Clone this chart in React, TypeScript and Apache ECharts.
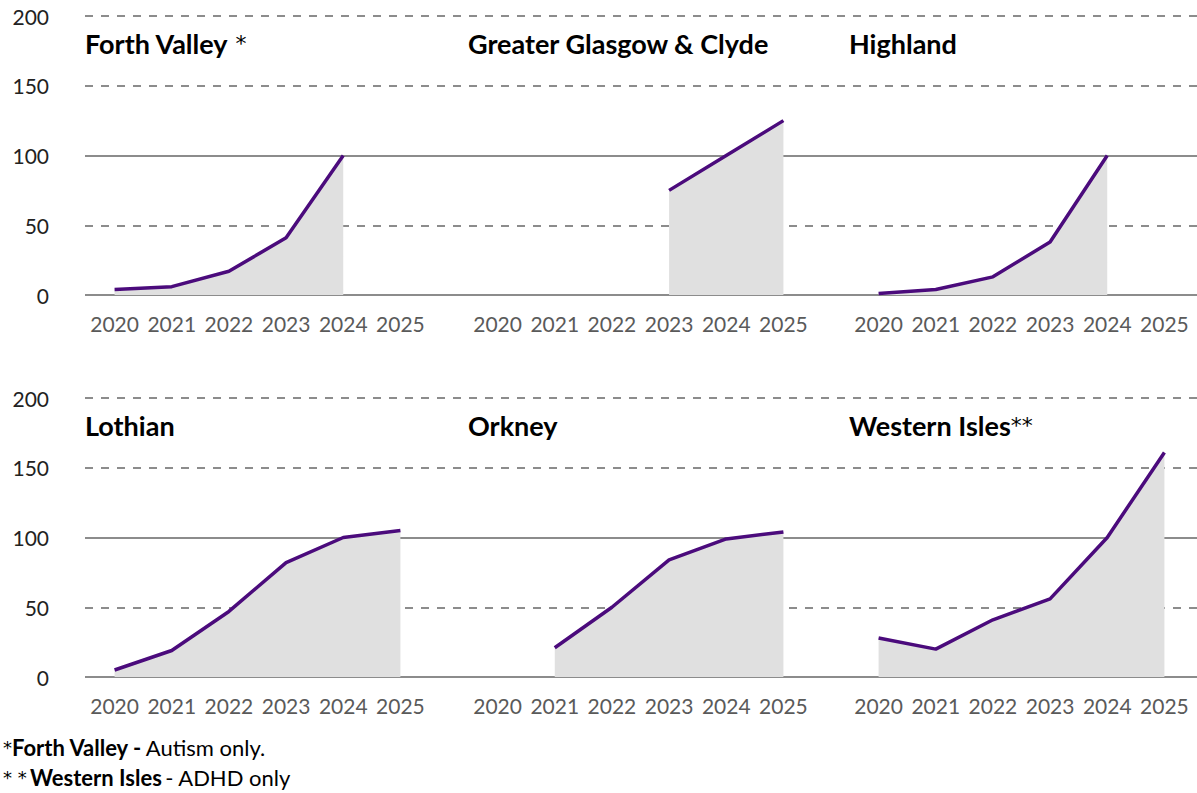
import React, { useEffect, useRef } from "react";
import * as echarts from "echarts";

const years = ["2020", "2021", "2022", "2023", "2024", "2025"];
const forthValley = [4, 6, 17, 41, 100, null];
const greaterGlasgow = [null, null, null, 75, 100, 125];
const highland = [1, 4, 13, 38, 100, null];
const lothian = [5, 19, 47, 82, 100, 105];
const orkney = [null, 21, 50, 84, 99, 104];
const westernIsles = [28, 20, 41, 56, 100, 161];

const panelNames = [
  "{t|Forth Valley}{s| *}",
  "{t|Greater Glasgow & Clyde}",
  "{t|Highland}",
  "{t|Lothian}",
  "{t|Orkney}",
  "{t|Western Isles}{s|**}",
];
const panelData = [forthValley, greaterGlasgow, highland, lothian, orkney, westernIsles];

const FONT = "Lato, 'Noto Sans', sans-serif";
const STAR_FONT = "'DejaVu Sans', sans-serif";
const LINE_COLOR = "#4b0b7c";
const AREA_COLOR = "#e0e0e0";
const GRID_COLOR = "#8c8c8c";

export default function App() {
  const ref = useRef<HTMLDivElement>(null);
  useEffect(() => {
    if (!ref.current) return;
    const chart = echarts.init(ref.current, null, { renderer: "svg" });

    const rowTops = [16, 398];
    const rowHeight = 279;
    const panelLefts = [86, 469, 850];
    const panelWidth = 343;

    const grid: any[] = [];
    const xAxis: any[] = [];
    const yAxis: any[] = [];
    const series: any[] = [];
    const graphic: any[] = [];

    rowTops.forEach((top) => {
      const gi = grid.length;
      grid.push({ left: 85, right: 0, top, height: rowHeight });
      xAxis.push({ type: "value", gridIndex: gi, show: false, min: 0, max: 1 });
      yAxis.push({
        type: "value",
        gridIndex: gi,
        min: 0,
        max: 200,
        interval: 50,
        axisLine: { show: false },
        axisTick: { show: false },
        axisLabel: { color: "#222", fontSize: 21, fontFamily: FONT, margin: 36 },
        splitLine: { show: true, lineStyle: { color: GRID_COLOR, width: 2, type: [8, 8] } },
      });
    });
    rowTops.forEach((top) => {
      const gi = grid.length;
      grid.push({ left: 85, right: 0, top: top + rowHeight / 2, height: rowHeight / 2 });
      xAxis.push({ type: "value", gridIndex: gi, show: false, min: 0, max: 1 });
      yAxis.push({
        type: "value",
        gridIndex: gi,
        min: 0,
        max: 100,
        interval: 100,
        axisLine: { show: false },
        axisTick: { show: false },
        axisLabel: { show: false },
        splitLine: { show: true, lineStyle: { color: GRID_COLOR, width: 2, type: "solid" } },
      });
    });

    panelData.forEach((data, i) => {
      const row = Math.floor(i / 3);
      const col = i % 3;
      const gi = grid.length;
      grid.push({ left: panelLefts[col], width: panelWidth, top: rowTops[row], height: rowHeight });
      xAxis.push({
        type: "category",
        gridIndex: gi,
        data: years,
        boundaryGap: true,
        axisLine: { show: false },
        axisTick: { show: false },
        splitLine: { show: false },
        axisLabel: { interval: 0, color: "#5a5a5a", fontSize: 21, fontFamily: FONT, margin: 18 },
      });
      yAxis.push({ type: "value", gridIndex: gi, min: 0, max: 200, show: false });
      series.push({
        type: "line",
        xAxisIndex: gi,
        yAxisIndex: gi,
        data,
        symbol: "none",
        connectNulls: false,
        lineStyle: { color: LINE_COLOR, width: 3.5 },
        itemStyle: { color: LINE_COLOR },
        areaStyle: { color: AREA_COLOR, opacity: 1 },
        silent: true,
      });
      graphic.push({
        type: "text",
        left: panelLefts[col] - 1,
        top: rowTops[row] + 14,
        style: {
          text: panelNames[i],
          fill: "#000",
          rich: {
            t: { fontSize: 27, fontWeight: "bold", fontFamily: FONT, fill: "#000", lineHeight: 34 },
            s: { fontSize: 22, fontWeight: "normal", fontFamily: STAR_FONT, fill: "#000", lineHeight: 34 },
          },
        },
      });
    });

    graphic.push({
      type: "text",
      left: 3,
      top: 736,
      style: {
        text: "{s|*}{b|Forth Valley -} {r|Autism only.}",
        rich: {
          s: { fontSize: 18, fontFamily: STAR_FONT, fill: "#000", lineHeight: 28 },
          b: { fontSize: 22, fontWeight: "bold", fontFamily: FONT, fill: "#000", lineHeight: 28 },
          r: { fontSize: 22, fontFamily: FONT, fill: "#000", lineHeight: 28 },
        },
      },
    });
    graphic.push({
      type: "text",
      left: 3,
      top: 766,
      style: {
        text: "{s|* *} {b|Western Isles} {r|- ADHD only}",
        rich: {
          s: { fontSize: 18, fontFamily: STAR_FONT, fill: "#000", lineHeight: 28 },
          b: { fontSize: 22, fontWeight: "bold", fontFamily: FONT, fill: "#000", lineHeight: 28 },
          r: { fontSize: 22, fontFamily: FONT, fill: "#000", lineHeight: 28 },
        },
      },
    });

    chart.setOption({
      animation: false,
      backgroundColor: "#fff",
      grid,
      xAxis,
      yAxis,
      series,
      graphic,
    });
    return () => chart.dispose();
  }, []);
  return (
    <div
      ref={ref}
      style={{ position: "absolute", left: 0, top: 0, width: 1197, height: 793 }}
    />
  );
}
